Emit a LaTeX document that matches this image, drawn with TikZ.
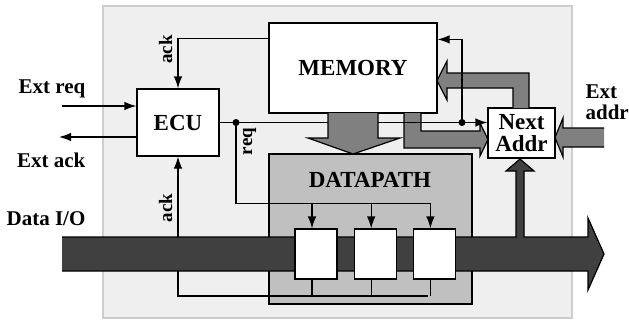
\documentclass[tikz,border=0pt]{standalone}
\usepackage{fontspec}
\setmainfont{Liberation Serif}
\usetikzlibrary{positioning,arrows.meta}
\definecolor{panelGray}{RGB}{239,239,239}
\definecolor{panelEdge}{RGB}{205,205,205}
\definecolor{dpGray}{RGB}{192,192,192}
\definecolor{fatGray}{RGB}{128,128,128}
\definecolor{busGray}{RGB}{64,64,64}

\begin{document}
\begin{tikzpicture}[
    x=1pt, y=-1pt,
    line width=1.2pt,
    block/.style={rectangle, draw, fill=white, line width=1.2pt, inner sep=0pt, font=\bfseries\fontsize{23}{22}\selectfont},
    reg/.style={rectangle, draw, fill=white, line width=1.2pt, minimum width=42pt, minimum height=50pt, inner sep=0pt},
    wire/.style={draw, line width=1.2pt},
    sigarrow/.style={-{Latex[length=12pt,width=8.5pt]}},
    fatarrow/.style={fill=fatGray, draw=black, line width=1.2pt},
    bus/.style={fill=busGray, draw=black, line width=1.2pt},
    extlabel/.style={font=\bfseries\fontsize{21}{21}\selectfont, inner sep=0pt},
    signame/.style={font=\bfseries\fontsize{19}{19}\selectfont, inner sep=0pt, rotate=90, anchor=base}
]
  \useasboundingbox (0,0) rectangle (629,322);
  \draw[draw=panelEdge, fill=panelGray, line width=1.5pt] (103,6) rectangle (572,318);

  % blocks
  \node[rectangle, draw, fill=dpGray, minimum width=203pt, minimum height=150pt] (dp) at (370.5,229) {};
  \node[block, draw=none, fill=none, anchor=base] (dpname) at (370,187) {DATAPATH};
  \node[block, minimum width=168pt, minimum height=90pt] (mem) at (353,68) {MEMORY};
  \node[block, minimum width=82pt, minimum height=67pt] (ecu) at (178,122.5) {ECU};
  \node[block, align=center, minimum width=67pt, minimum height=50pt] (na) at (521.5,133) {Next\\Addr};

  % ack from the registers (runs behind the bus)
  \coordinate (ackend) at (428,296);
  \draw[wire, sigarrow] (ackend) -| (ecu.south);

  % data bus
  \filldraw[bus] (62,237) -- (516,237) -- (516,171) -- (506,171) -- (520,159) -- (534,171)
    -- (524,171) -- (524,237) -- (588,237) -- (588,218) -- (604,254) -- (588,290)
    -- (588,271) -- (62,271);

  % registers
  \node[reg] (r1) at (316,254) {};
  \node[reg, right=16pt of r1] (r2) {};
  \node[reg, right=16pt of r2] (r3) {};
  \foreach \r in {r1,r2,r3}
    \draw[wire] ([xshift=-4pt]\r.south) -- ([xshift=-4pt]\r.south |- ackend);

  % wide address paths
  \filldraw[fatarrow] (604,128) -- (563,128) -- (563,118) -- (555,137.5) -- (563,157) -- (563,147) -- (604,147);
  \filldraw[fatarrow] (513,108) -- (513,88) -- (447,88) -- (447,100) -- (437,80.5) -- (447,61)
    -- (447,73) -- (529,73) -- (529,108);
  \filldraw[fatarrow] (421,113) -- (421,131) -- (480,131) -- (480,123) -- (488,139.5) -- (480,156)
    -- (480,148) -- (404,148) -- (404,113);

  % control signals
  \coordinate (dotA) at (236,122.5);
  \coordinate (dotB) at (462,122.5);
  \coordinate (extreq) at (62,106);
  \coordinate (extack) at (59,137);
  \draw[wire, sigarrow] (extreq) -- (extreq -| ecu.west);
  \draw[wire, sigarrow] (extack -| ecu.west) -- (extack);
  \draw[wire, sigarrow] ([yshift=-16pt]mem.north west) -| (ecu.north);
  \draw[wire, sigarrow] (ecu.east) -- (dotB) -- (dotB -| na.west);
  \draw[wire, sigarrow] (dotB) |- ([yshift=-17pt]mem.north east);
  \draw[wire, sigarrow] (dotA) |- ([xshift=-4pt,yshift=25pt]r3.north) -- ([xshift=-4pt]r3.north);
  \foreach \r in {r1,r2}
    \draw[wire, sigarrow] ([xshift=-4pt,yshift=25pt]\r.north) -- ([xshift=-4pt]\r.north);
  \fill (dotA) circle[radius=3.5pt];
  \fill (dotB) circle[radius=3.5pt];

  % memory to datapath
  \filldraw[fatarrow] (328,113) -- (328,138) -- (308,138) -- (353,154) -- (400,138) -- (378,138) -- (378,113);

  % labels
  \node[extlabel, anchor=base east] (extreqname) at (86,93) {Ext req};
  \node[extlabel, anchor=base east] (extackname) at (86,167) {Ext ack};
  \node[extlabel, anchor=base east] (dataname) at (86,225) {Data I/O};
  \node[extlabel, anchor=north west, align=left] (extaddrname) at (585,84) {Ext\\addr};
  \node[signame] (acktop) at (172,49.5) {ack};
  \node[signame] (ackbottom) at (172,208) {ack};
  \node[signame] (reqname) at (252,141.5) {req};
\end{tikzpicture}
\end{document}
